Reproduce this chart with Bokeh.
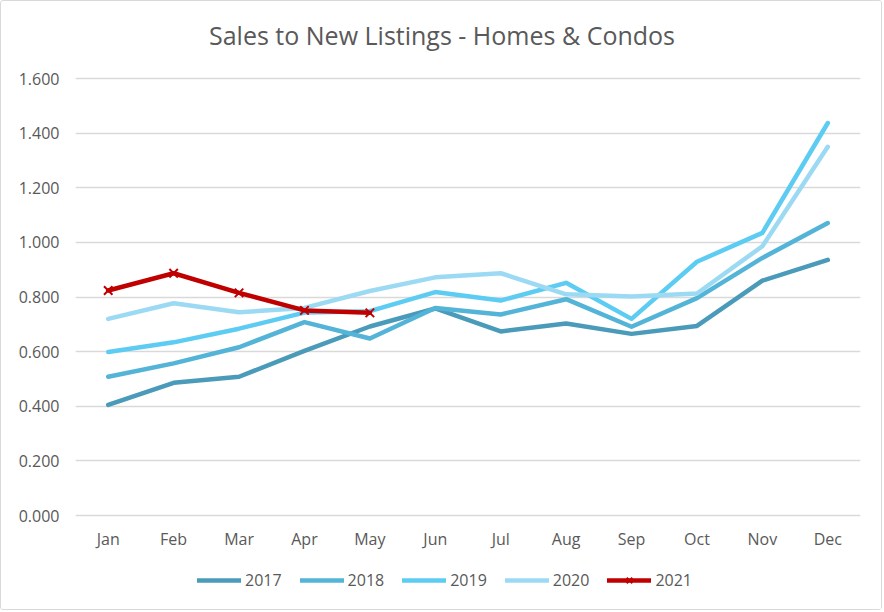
from bokeh.plotting import figure
from bokeh.models import (FactorRange, Range1d, FixedTicker, NumeralTickFormatter,
                          Legend, LegendItem, Label)
from bokeh.core.properties import value
from bokeh.embed import file_html
from bokeh.resources import INLINE

title_text = "Sales to New Listings - Homes & Condos"
months = ["Jan", "Feb", "Mar", "Apr", "May", "Jun", "Jul", "Aug", "Sep", "Oct", "Nov", "Dec"]
s2017 = [0.405, 0.486, 0.508, 0.603, 0.692, 0.758, 0.674, 0.703, 0.665, 0.694, 0.860, 0.936]
s2018 = [0.508, 0.557, 0.616, 0.708, 0.648, 0.760, 0.736, 0.792, 0.691, 0.796, 0.943, 1.071]
s2019 = [0.599, 0.634, 0.684, 0.743, 0.748, 0.818, 0.787, 0.852, 0.720, 0.929, 1.035, 1.437]
s2020 = [0.720, 0.777, 0.744, 0.760, 0.822, 0.872, 0.887, 0.810, 0.802, 0.813, 0.986, 1.350]
months_2021 = ["Jan", "Feb", "Mar", "Apr", "May"]
s2021 = [0.824, 0.887, 0.815, 0.751, 0.742]
y_ticks = [0.0, 0.2, 0.4, 0.6, 0.8, 1.0, 1.2, 1.4, 1.6]

series = [("2017", s2017, "#4A9BB9"),
          ("2018", s2018, "#53B4D7"),
          ("2019", s2019, "#5DCCF3"),
          ("2020", s2020, "#9CDAF4")]

FONT = "Open Sans"
TXT = "#595959"

# the frame extends above 1.6 and below 0 to host title, month labels and legend
Y_START = -0.3112
Y_END = 1.8673

p = figure(width=882, height=610, x_range=FactorRange(factors=months),
           y_range=Range1d(Y_START, Y_END),
           x_axis_location=None,
           output_backend="svg", toolbar_location=None,
           min_border_left=74, min_border_right=23, min_border_top=4, min_border_bottom=11)
p.styles = {"border": "1px solid #D9D9D9", "border-radius": "3px"}
p.outline_line_color = None
p.background_fill_color = "white"
p.border_fill_color = "white"

p.add_layout(Label(x=366.5, y=566, x_units="screen", y_units="screen", text=title_text,
                   text_align="center", text_baseline="middle",
                   text_font=FONT, text_font_size="25px", text_color=TXT))

for g in p.xgrid:
    g.visible = False
p.ygrid.grid_line_color = "#D9D9D9"
p.ygrid.grid_line_width = 1.3
p.ygrid.ticker = FixedTicker(ticks=y_ticks)

p.yaxis.ticker = FixedTicker(ticks=y_ticks)
p.yaxis.formatter = NumeralTickFormatter(format="0.000")
p.yaxis.axis_line_color = None
p.yaxis.major_tick_line_color = None
p.yaxis.minor_tick_line_color = None
p.yaxis.major_label_text_font = FONT
p.yaxis.major_label_text_font_size = "16px"
p.yaxis.major_label_text_color = TXT
p.yaxis.major_label_standoff = 10

# category labels under the zero line
p.text(x=months, y=[y_ticks[0]] * len(months), text=months, y_offset=23,
       text_align="center", text_baseline="middle",
       text_font=value(FONT), text_font_size="16px", text_color=TXT)

items = []
for name, vals, col in series:
    r = p.line(months, vals, line_color=col, line_width=4.5,
               line_join="round", line_cap="round")
    items.append(LegendItem(label=name, renderers=[r]))

r21 = p.line(months_2021, s2021, line_color="#C00000", line_width=4.5,
             line_join="round", line_cap="round")
m21 = p.scatter(months_2021, s2021, marker="x", size=12, line_color="#C00000", line_width=2)
items.append(LegendItem(label="2021", renderers=[r21, m21]))

legend = Legend(items=items, orientation="horizontal", location=(117, 4),
                glyph_width=44, glyph_height=20, label_standoff=4, spacing=18,
                padding=5, margin=0,
                border_line_alpha=0, background_fill_alpha=0,
                label_text_font=FONT, label_text_font_size="16px", label_text_color=TXT)
p.add_layout(legend, "center")

open("out.html", "w").write(file_html(p, INLINE))
